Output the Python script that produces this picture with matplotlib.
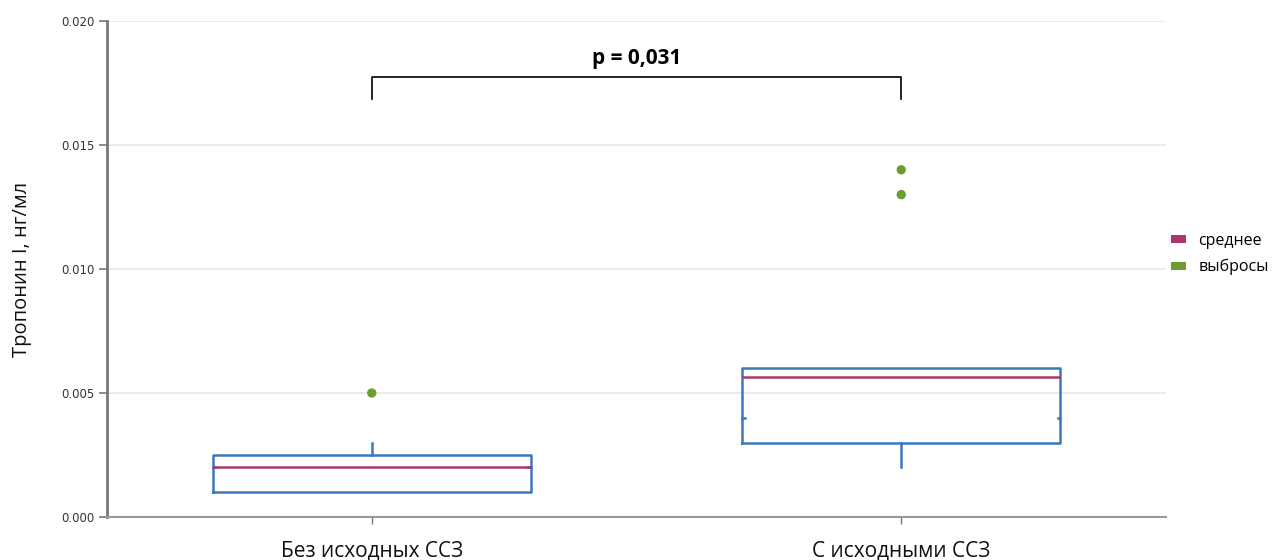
import matplotlib
matplotlib.use("Agg")
import matplotlib.pyplot as plt
from matplotlib.patches import Patch

plt.rcParams['font.family'] = ['Open Sans', 'DejaVu Sans']

categories = ["Без исходных ССЗ", "С исходными ССЗ"]
q1 = [0.001, 0.003]
q3 = [0.0025, 0.006]
medians = [0.002, 0.004]
means = [0.002, 0.00565]
whisk_lo = [0.001, 0.002]
whisk_hi = [0.003, 0.006]
outliers = [[0.005], [0.014, 0.013]]
y_ticks = [0.000, 0.005, 0.010, 0.015, 0.020]
p_text = "p = 0,031"
legend_labels = ["среднее", "выбросы"]

box_c = "#3b78bd"
mean_c = "#a8386c"
out_c = "#6b9e2c"

fig = plt.figure(figsize=(12.76, 5.6), dpi=100)
ax = fig.add_axes([107/1276, 1-517/560, (1166-107)/1276, (517-21)/560])

stats = []
for i in range(len(categories)):
    stats.append(dict(q1=q1[i], q3=q3[i], med=medians[i], mean=means[i],
                      whislo=whisk_lo[i], whishi=whisk_hi[i], fliers=[]))
pos = list(range(len(categories)))
ax.bxp(stats, positions=pos, widths=0.6, showmeans=True, meanline=True,
       showcaps=False, showfliers=False,
       boxprops=dict(color=box_c, linewidth=1.8),
       whiskerprops=dict(color=box_c, linewidth=1.8),
       medianprops=dict(linewidth=0),
       meanprops=dict(color=mean_c, linewidth=1.8, linestyle='-'))
# median tiny marks at box sides
for i, m in enumerate(medians):
    ax.plot([pos[i]-0.3, pos[i]-0.3+0.004], [m, m], color=box_c, lw=1.8)
    ax.plot([pos[i]+0.3-0.004, pos[i]+0.3], [m, m], color=box_c, lw=1.8)
for i, outs in enumerate(outliers):
    ax.scatter([pos[i]]*len(outs), outs, s=45, color=out_c, zorder=4, edgecolors='none')

ax.set_xlim(-0.5, 1.5)
ax.set_ylim(0, 0.02)
ax.set_yticks(y_ticks)
ax.set_yticklabels([f"{v:.3f}" for v in y_ticks], fontsize=8.5, color="#333333", family=['DejaVu Sans'])
ax.set_xticks(pos)
ax.set_xticklabels(categories, fontsize=15, color="#111111")
ax.tick_params(axis='y', length=6, width=1.2, color="#777777", pad=3)
ax.tick_params(axis='x', length=5, width=1, color="#777777", pad=12)
ax.grid(axis='y', color="#e6e6e6", linewidth=1.2)
ax.set_axisbelow(True)
for s in ['top', 'right']:
    ax.spines[s].set_visible(False)
ax.spines['left'].set_color("#777777")
ax.spines['left'].set_linewidth(2)
ax.spines['bottom'].set_color("#999999")
ax.spines['bottom'].set_linewidth(1.5)
ax.set_ylabel("Тропонин I, нг/мл", fontsize=14.5, labelpad=21, color="#111111")

# significance bracket
ax.plot([0, 0, 1, 1], [0.01685, 0.01774, 0.01774, 0.01685], color="black", lw=1.2, clip_on=False)
ax.text(0.5, 0.01805, p_text, ha='center', va='bottom', fontsize=15, fontweight='bold')

handles = [Patch(facecolor=mean_c, edgecolor='none'), Patch(facecolor=out_c, edgecolor='none')]
fig.legend(handles, legend_labels, loc='center left', bbox_to_anchor=(1157/1276, 1-254/560),
           frameon=False, fontsize=11.5, handlelength=0.9, handleheight=0.4,
           handletextpad=0.8, labelspacing=0.65)

fig.savefig("out.png", dpi=100)
